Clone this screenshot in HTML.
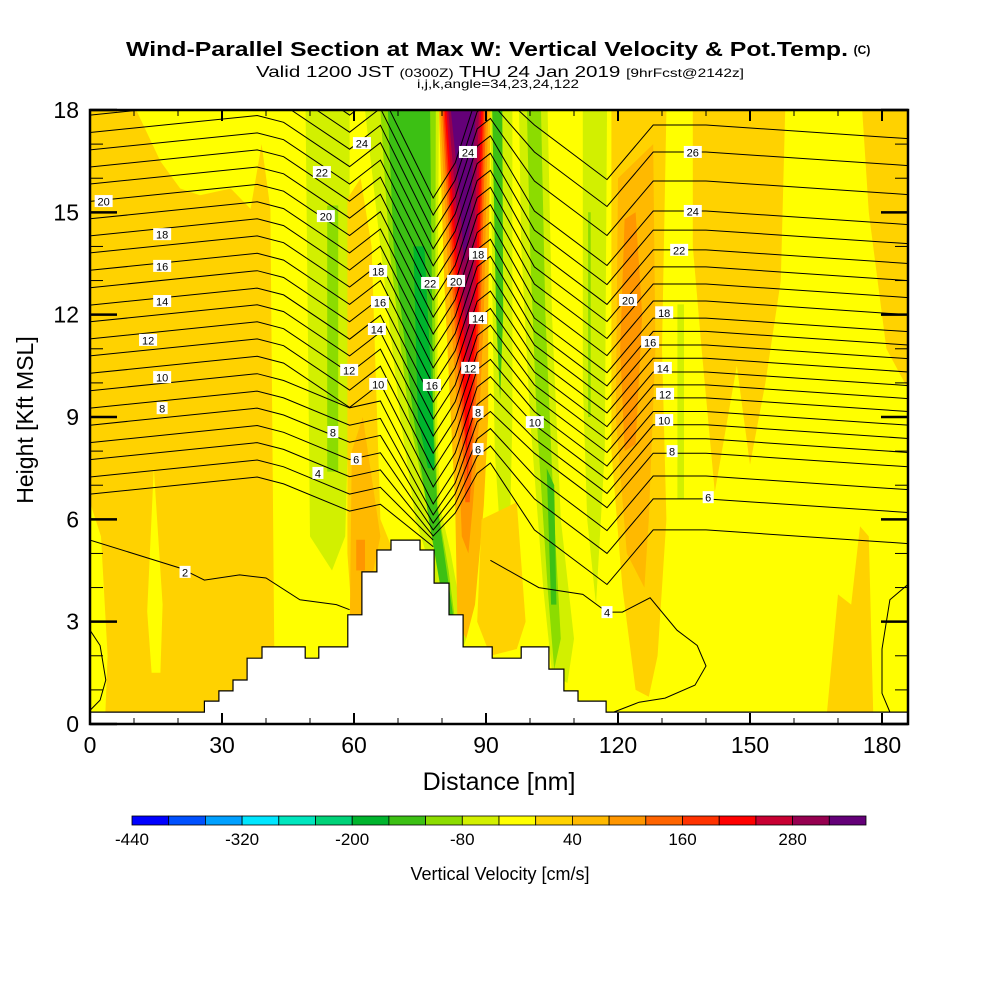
<!DOCTYPE html>
<html><head><meta charset="utf-8"><style>
html,body{margin:0;padding:0;background:#fff;}
svg{display:block;font-family:"Liberation Sans",Arial,sans-serif;}
</style></head><body>
<svg id="chart" width="1000" height="1000" viewBox="0 0 1000 1000">
<g id="titles">
<text x="487" y="56" text-anchor="middle" font-size="20" font-weight="bold" textLength="722" lengthAdjust="spacingAndGlyphs">Wind-Parallel Section at Max W: Vertical Velocity &amp; Pot.Temp.</text>
<text x="862" y="54" text-anchor="middle" font-size="12" font-weight="bold">(C)</text>
<text x="500" y="77" text-anchor="middle" font-size="16" textLength="488" lengthAdjust="spacingAndGlyphs">Valid 1200 JST <tspan font-size="12">(0300Z)</tspan> THU 24 Jan 2019 <tspan font-size="12">[9hrFcst@2142z]</tspan></text>
<text x="498" y="88" text-anchor="middle" font-size="12" textLength="162" lengthAdjust="spacingAndGlyphs">i,j,k,angle=34,23,24,122</text>
</g>
<defs><clipPath id="plotclip"><rect x="90" y="110" width="818" height="614"/></clipPath></defs>
<g id="field" clip-path="url(#plotclip)"></g>
<g id="contours" clip-path="url(#plotclip)"></g>
<g id="terrain"></g>
<g id="clabels"></g>
<g id="axes"></g>
<g id="colorbar"></g>
</svg>
<script>
// ---- data ----
const wLevels = [-440,-400,-360,-320,-280,-240,-200,-160,-120,-80,-40,0,40,80,120,160,200,240,280,320,360];
const wColors = ["#0000ff","#0050ff","#00a0ff","#00e6ff","#00e6be","#00d278","#00b42d","#3cc014","#8cdc00","#d2f000","#ffff00","#ffd200","#ffb900","#ff9600","#ff6400","#ff3200","#ff0000","#c80032","#960050","#640078"];
const cbTickValues = [-440,-320,-200,-80,40,160,280];
const xTickValues = [0,30,60,90,120,150,180];
const yTickValues = [0,3,6,9,12,15,18];
const baseW = -20;
const fieldW = [20,-20,-20,-60,-100,20,60,100,-60,-100,-140,-180,60,100,140,180,220,260,300,340,-60,-140,-60,-100,-140,-60,-100,-60,20,60,100,20,20,20,20];
const fieldShapes = [
 [[0,18],[10.5,18],[16,16.5],[20.5,15.7],[25,15.5],[32,15.7],[36.5,15.1],[39,17],[41,15.1],[42,0.35],[0,0.35]],
 [[0,6.5],[2.5,5.5],[4,2],[3.5,0.35],[0,0.35]],
 [[13,3.3],[14.5,7.5],[16.5,3.5],[16,1.5],[14,1.5]],
 [[49,18],[59,18],[59,10],[58,5.5],[55,4.5],[50,5.5]],
 [[53.9,15.2],[56.4,15.2],[56.4,7.4],[53.9,7.4]],
 [[58.5,15.4],[61.5,16],[64,14],[66,6],[68.5,5.2],[60,2.3],[58.5,5]],
 [[59.5,8],[62,9],[66,5.5],[62,3],[59,2.5]],
 [[60.5,5.4],[62.5,5.4],[62.5,4.5],[60.5,4.5]],
 [[62.5,18],[79.3,18],[78.9,9],[79.5,6.4],[82,5],[85.5,2.5],[84,1.9],[80,3.5],[74,6],[70.5,9],[66,14]],
 [[66,18],[78.6,18],[78.4,9],[79,6.4],[81.5,4.5],[83.5,2.5],[82,2.2],[78,5.5],[72.5,9],[68,14]],
 [[67.7,18],[77.3,18],[78,9],[78.9,6.4],[80.5,5],[82.5,3.2],[81,3],[77,6],[73.5,9],[69,14]],
 [[73.5,14],[76,14],[78,9],[78.2,7.5],[76.8,7.5],[74.5,9]],
 [[79.3,18],[91,18],[90.5,12],[90.5,9],[89.5,6.4],[87.5,3.5],[85.5,2.5],[83.5,3],[83,6.4],[82,9],[80.5,13]],
 [[79.6,18],[90.5,18],[89.5,12],[88.5,9],[87,6.4],[86,5],[84.5,5.5],[83.5,9],[81.5,13]],
 [[80,18],[90,18],[88.8,12],[87.5,9],[86.3,6.5],[85.3,6.5],[84.3,9],[82.2,13]],
 [[80.3,18],[89.6,18],[88.4,12],[87,9],[85.8,7.2],[84.8,9],[82.7,13]],
 [[80.6,18],[89.3,18],[88,12],[86.6,9.5],[85.5,8],[85,9.5],[83.2,13]],
 [[81,18],[88.9,18],[87.4,12],[86,10],[84.5,12],[83.2,14]],
 [[81.4,18],[88.4,18],[87,13.2],[85.5,11.5],[84,14]],
 [[82,18],[87.7,18],[86.3,14.5],[85,13.5],[84,15.5]],
 [[91,18],[96,18],[96,9],[95.5,6],[93.5,5],[92,8],[91.5,12]],
 [[91.4,18],[93.7,18],[93.9,12],[93.2,9.5],[92.3,12]],
 [[97.5,18],[104,18],[105,12],[107,6],[110,2.5],[108.5,1.2],[105,1.5],[103,4],[100,9],[98,14]],
 [[99.3,18],[102.5,18],[103.5,12],[105.5,6],[107,2.5],[105.5,1.6],[104,4],[101.5,9],[100,14]],
 [[103.8,7.5],[105.5,7],[106,3.5],[104.8,3.5]],
 [[112,18],[117.5,18],[117,8],[115,3.5],[113,6],[112,10]],
 [[113.2,15],[113.8,15],[113.8,9],[113.2,9]],
 [[133.5,12.3],[135,12.3],[135,6.6],[133.5,6.6]],
 [[118.5,18],[131,18],[130,11],[131,6],[129,2],[127,0.8],[124,1],[121,4],[118.5,8]],
 [[120,16],[128,17],[128.5,11],[127,6],[126,4],[122,5],[119.5,9]],
 [[121.5,14.8],[124,15],[125.5,12],[124,8.2],[121.5,8],[120.5,11]],
 [[137,18],[158,18],[157,13],[153.5,10],[150,7.6],[147,10.5],[142,6.8],[139,11],[137,14]],
 [[175.5,18],[186,18],[186,9.8],[181,11],[177,15]],
 [[167.5,0.35],[178,0.35],[177,5.5],[175,5.8],[173,3.5],[170,3.8]],
 [[89,6],[97,6.5],[99,3],[97,2.2],[91,2],[88,3]]
];
const terrainX = [0,26,29.3,32.5,35.7,39.1,48.9,52,58.6,61.8,65.2,68.4,75,78.2,81.6,84.8,91.4,98,104.3,107.7,110.9,117.3,186];
const terrainH = [0.35,0.67,0.97,1.29,1.93,2.26,1.93,2.26,3.2,4.46,5.1,5.39,5.1,4.13,3.2,2.26,1.93,2.26,1.61,0.97,0.67,0.35];
const thetaLevels = [3,4,5,6,7,8,9,10,11,12,13,14,15,16,17,18,19,20,21,22,23,24,25,26,27];
const thetaLeft = [6.74,7.24,7.75,8.25,8.76,9.26,9.77,10.28,10.79,11.29,11.79,12.28,12.79,13.30,13.81,14.31,14.81,15.32,15.83,16.33,16.83,17.34,17.85,18.35,18.85];
const thetaRight = [5.0,5.3,5.69,6.60,7.27,7.94,8.36,8.77,9.16,9.56,9.94,10.32,10.72,11.11,11.51,11.90,12.40,12.90,13.40,13.90,14.48,15.04,15.92,16.77,17.56];
const thetaVertex = [5.2,5.39,5.51,5.69,5.89,6.13,6.45,6.95,7.45,7.94,8.44,8.94,9.44,9.94,10.44,10.94,11.43,11.93,12.43,12.93,13.43,13.93,14.42,14.92,15.42];
const thetaEnd = [78,78,186,186,186,186,186,186,186,186,186,186,186,186,186,186,186,186,186,186,186,186,186,186,186];
const contour2X = [0,20.5,26,34,40,47.7,56,59];
const contour2Y = [5.39,4.57,4.22,4.37,4.28,3.64,3.5,3.35];
const contour4X = [91,102,112,117.5,121,127.3,133.4,138,140,137.5,130.7,124.8,119];
const contour4Y = [4.8,4.0,3.8,3.28,3.28,3.7,2.75,2.3,1.7,1.14,0.76,0.64,0.35];
const loopRightX = [186,181.8,180,180,181.8,186];
const loopRightY = [4.1,3.64,2.2,0.9,0.35,0.35];
const loopLeftX = [0,2.3,3.6,2.3,0];
const loopLeftY = [2.75,2.3,1.29,0.7,0.4];
const labelText = ["20","18","16","14","12","10","8","2","4","8","6","22","20","24","18","16","14","12","10","22","16","24","20","18","14","12","8","6","10","26","24","22","20","18","16","14","12","10","8","6","4"];
const labelX = [3.1,16.4,16.4,16.4,13.2,16.4,16.4,21.6,51.8,55.2,60.5,52.7,53.6,61.8,65.5,65.9,65.2,58.9,65.5,77.3,77.7,85.9,83.2,88.2,88.2,86.4,88.2,88.2,101.1,137,137,133.9,122.3,130.5,127.3,130.2,130.7,130.5,132.3,140.5,117.5];
const labelY = [15.33,14.36,13.43,12.4,11.26,10.17,9.26,4.46,7.36,8.56,7.77,16.18,14.89,17.03,13.28,12.37,11.58,10.38,9.97,12.93,9.94,16.77,12.99,13.78,11.9,10.44,9.15,8.06,8.85,16.77,15.04,13.9,12.43,12.07,11.2,10.44,9.68,8.91,8.0,6.65,3.28];

// ---- axis functions ----
const X0=90, X1=908, Y0=724, Y1=110, XMAX=(908-90)/4.4;
function sx(v){return X0+v*4.4;}
function sy(v){return Y0-v*(Y0-Y1)/18;}
function wColor(w){let i=Math.floor((w-wLevels[0])/40);i=Math.max(0,Math.min(wColors.length-1,i));return wColors[i];}
const NS="http://www.w3.org/2000/svg";
function mk(tag,attrs,parent){const e=document.createElementNS(NS,tag);for(const k in attrs)e.setAttribute(k,attrs[k]);parent.appendChild(e);return e;}
function pts(xs,ys){return xs.map((x,i)=>sx(x).toFixed(1)+","+sy(ys[i]).toFixed(1)).join(" ");}

// ---- field ----
const field=document.getElementById('field');
let base=mk('rect',{x:sx(0),y:sy(18),width:sx(XMAX)-sx(0),height:sy(0)-sy(18),fill:wColor(baseW)},field);


fieldShapes.forEach((shp,i)=>{
  const p=mk('polygon',{points:pts(shp.map(q=>q[0]),shp.map(q=>q[1])),fill:wColor(fieldW[i])},field);
  
  
});

// ---- contours ----
const cg=document.getElementById('contours');
thetaLevels.forEach((lv,i)=>{
  const L=thetaLeft[i],R=thetaRight[i],V=thetaVertex[i];
  const v1 = lv>=10?1.0:0.5;
  let xs=[0,38,44,59,66,78,83,88,91,101,117.5,128,140,186];
  let ys=[L,L+0.5,L+0.3,L-v1,L-0.3,V,L-0.7*(L-V),L-0.4,L-0.1,R,R-1.6,R,R,R-0.4];
  const e=thetaEnd[i];
  const kx=[],ky=[];
  xs.forEach((x,j)=>{if(x<=e){kx.push(x);ky.push(ys[j]);}});
  const pl=mk('polyline',{points:pts(kx,ky),fill:'none',stroke:'#000','stroke-width':1},cg);
  
  
});
[[contour2X,contour2Y,'theta-contour-2'],[contour4X,contour4Y,'theta-contour-4-right'],[loopRightX,loopRightY,'theta-loop-right'],[loopLeftX,loopLeftY,'theta-loop-left']].forEach(c=>{
  const pl=mk('polyline',{points:pts(c[0],c[1]),fill:'none',stroke:'#000','stroke-width':1},cg);
  
  
});

// ---- terrain ----
const tg=document.getElementById('terrain');
let tp=[];
tp.push(sx(0)+","+sy(0));
for(let i=0;i<terrainH.length;i++){
  tp.push(sx(terrainX[i]).toFixed(1)+","+sy(terrainH[i]).toFixed(1));
  tp.push(sx(Math.min(terrainX[i+1],XMAX)).toFixed(1)+","+sy(terrainH[i]).toFixed(1));
}
tp.push(sx(XMAX)+","+sy(0));
const terr=mk('polygon',{points:tp.join(" "),fill:'#fff',stroke:'#000','stroke-width':1.2},tg);



// ---- contour labels ----
const lg=document.getElementById('clabels');
labelText.forEach((t,i)=>{
  const cx=sx(labelX[i]),cy=sy(labelY[i]);
  const w=t.length*7+4;
  const r=mk('rect',{x:cx-w/2,y:cy-6,width:w,height:12,fill:'#fff'},lg);
  
  
  const tx=mk('text',{x:cx,y:cy+4.5,'text-anchor':'middle','font-size':11},lg);
  tx.textContent=t;
  
  
});

// ---- axes ----
const ag=document.getElementById('axes');
const frame=mk('rect',{x:X0,y:Y1,width:X1-X0,height:Y0-Y1,fill:'none',stroke:'#000','stroke-width':2.5},ag);


for(let v=0;v<=180;v+=10){
  const major=v%30===0, len=major?11:6;
  const a=mk('line',{x1:sx(v),x2:sx(v),y1:Y0,y2:Y0-len,stroke:'#000','stroke-width':major?2:1},ag);
  
  
  const b=mk('line',{x1:sx(v),x2:sx(v),y1:Y1,y2:Y1+len,stroke:'#000','stroke-width':major?2:1},ag);
  
  
}
xTickValues.forEach(v=>{
  const t=mk('text',{x:sx(v),y:753,'text-anchor':'middle','font-size':23},ag);
  t.textContent=v;
  
  
});
for(let v=0;v<=18;v+=1){
  const major=v%3===0, len=major?27:13;
  const a=mk('line',{x1:X0,x2:X0+len,y1:sy(v),y2:sy(v),stroke:'#000','stroke-width':major?2.5:1},ag);
  
  
  const b=mk('line',{x1:X1,x2:X1-len,y1:sy(v),y2:sy(v),stroke:'#000','stroke-width':major?2.5:1},ag);
  
  
}
yTickValues.forEach(v=>{
  const t=mk('text',{x:79,y:sy(v)+8,'text-anchor':'end','font-size':23},ag);
  t.textContent=v;
  
  
});
const xt=mk('text',{x:499,y:790,'text-anchor':'middle','font-size':25},ag);
xt.textContent='Distance [nm]';


const yt=mk('text',{x:33,y:420,'text-anchor':'middle','font-size':23,transform:'rotate(-90 33 420)'},ag);
yt.textContent='Height [Kft MSL]';



// ---- colorbar ----
const cb=document.getElementById('colorbar');
const CB0=132, CB1=866, CBy=816, CBh=9;
function cbx(v){return CB0+(v-wLevels[0])*(CB1-CB0)/(wLevels[wLevels.length-1]-wLevels[0]);}
wColors.forEach((c,i)=>{
  const r=mk('rect',{x:cbx(wLevels[i]),y:CBy,width:cbx(wLevels[i+1])-cbx(wLevels[i]),height:CBh,fill:c,stroke:'#000','stroke-width':0.8},cb);
  
  
});
cbTickValues.forEach(v=>{
  const t=mk('text',{x:cbx(v),y:845,'text-anchor':'middle','font-size':17},cb);
  t.textContent=v;
  
  
});
const ct=mk('text',{x:500,y:880,'text-anchor':'middle','font-size':18},cb);
ct.textContent='Vertical Velocity [cm/s]';


</script>
</body></html>
